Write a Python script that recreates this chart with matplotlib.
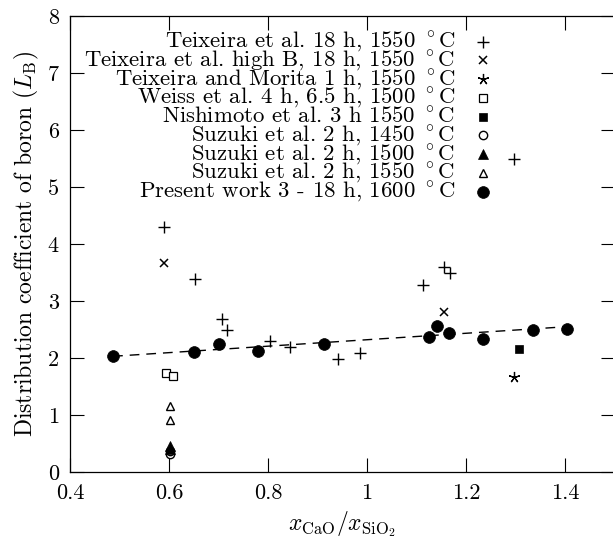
import numpy as np
import matplotlib
matplotlib.use("Agg")
import matplotlib.pyplot as plt

plt.rcParams["font.family"] = "serif"
plt.rcParams["font.serif"] = ["cmr10"]
plt.rcParams["mathtext.fontset"] = "cm"
plt.rcParams["axes.formatter.use_mathtext"] = True

# ===============================
# DATA  (x = x_CaO / x_SiO2, y = L_B)
# ===============================
teix18_x = [0.589, 0.653, 0.707, 0.718, 0.804, 0.845, 0.942, 0.985, 1.114, 1.156, 1.168, 1.296]
teix18_y = [4.30, 3.38, 2.69, 2.49, 2.29, 2.19, 1.98, 2.08, 3.28, 3.60, 3.49, 5.49]

teixB_x = [0.589, 1.156]
teixB_y = [3.67, 2.80]

morita_x = [1.296]
morita_y = [1.66]

weiss_x = [0.594, 0.609]
weiss_y = [1.73, 1.68]

nishi_x = [1.308]
nishi_y = [2.15]

suz1450_x = [0.602, 0.602]
suz1450_y = [0.32, 0.36]

suz1500_x = [0.602, 0.602]
suz1500_y = [0.40, 0.46]

suz1550_x = [0.602, 0.602]
suz1550_y = [1.15, 0.92]

present_x = [0.487, 0.651, 0.701, 0.780, 0.913, 1.126, 1.141, 1.166, 1.234, 1.336, 1.405]
present_y = [2.04, 2.11, 2.245, 2.12, 2.245, 2.36, 2.56, 2.44, 2.33, 2.50, 2.51]

# linear trend through the present work
fit_x = [0.487, 1.405]
fit_y = [2.03, 2.55]

labels = [
    r"Teixeira et al. 18 h, 1550 $^\circ$C",
    r"Teixeira et al. high B, 18 h, 1550 $^\circ$C",
    r"Teixeira and Morita 1 h, 1550 $^\circ$C",
    r"Weiss et al. 4 h, 6.5 h, 1500 $^\circ$C",
    r"Nishimoto et al. 3 h 1550 $^\circ$C",
    r"Suzuki et al. 2 h, 1450 $^\circ$C",
    r"Suzuki et al. 2 h, 1500 $^\circ$C",
    r"Suzuki et al. 2 h, 1550 $^\circ$C",
    r"Present work 3 - 18 h, 1600 $^\circ$C",
]

styles = [
    dict(marker="+", ms=8, mew=1.0, color="black", ls="none"),
    dict(marker="x", ms=5.5, mew=1.1, color="black", ls="none"),
    dict(marker=(5, 2, 0), ms=8, mew=0.9, color="black", ls="none"),
    dict(marker="s", ms=5.5, mew=0.9, mfc="white", mec="black", ls="none"),
    dict(marker="s", ms=6, mew=0.5, color="black", ls="none"),
    dict(marker="o", ms=6, mew=1.0, mfc="white", mec="black", ls="none"),
    dict(marker="^", ms=6.5, mew=0.5, color="black", ls="none"),
    dict(marker="^", ms=6, mew=1.0, mfc="white", mec="black", ls="none"),
    dict(marker="o", ms=8.5, mew=0.5, color="black", ls="none"),
]

series = [
    (teix18_x, teix18_y),
    (teixB_x, teixB_y),
    (morita_x, morita_y),
    (weiss_x, weiss_y),
    (nishi_x, nishi_y),
    (suz1450_x, suz1450_y),
    (suz1500_x, suz1500_y),
    (suz1550_x, suz1550_y),
    (present_x, present_y),
]

# ===============================
# FIGURE
# ===============================
W, H = 613, 540
fig = plt.figure(figsize=(W / 100, H / 100), dpi=100)
x0, x1, y0, y1 = 70, 614.5, 472, 16
ax = fig.add_axes([x0 / W, (H - y0) / H, (x1 - x0) / W, (y0 - y1) / H])

ax.plot(fit_x, fit_y, color="black", lw=1.0, ls=(0, (7, 5)), zorder=2)
for (sx, sy), st in zip(series, styles):
    ax.plot(sx, sy, zorder=3, **st)

ax.set_xlim(0.4, 1.5)
ax.set_ylim(0, 8)
xt = [0.4, 0.6, 0.8, 1.0, 1.2, 1.4]
ax.set_xticks(xt)
ax.set_xticklabels(["0.4", "0.6", "0.8", "1", "1.2", "1.4"])
ax.set_yticks(range(9))
ax.set_yticklabels([str(v) for v in range(9)])
ax.tick_params(direction="in", length=10, width=0.8, top=True, right=True,
               labelsize=16, pad=8)
for sp in ax.spines.values():
    sp.set_linewidth(0.9)

ax.set_xlabel(r"$x_{\rm CaO}/x_{\rm SiO_2}$", fontsize=17, labelpad=5)
ax.set_ylabel(r"Distribution coefficient of boron ($L_{\rm B}$)", fontsize=17, labelpad=5)

# key: right-aligned text with the symbol to its right
text_x = (455 - x0) / (x1 - x0)
mark_x = (483 - x0) / (x1 - x0)
for i, (lab, st) in enumerate(zip(labels, styles)):
    ry = 41.7 + 18.75 * i
    ya = (y0 - ry) / (y0 - y1)
    ax.text(text_x, ya, lab, transform=ax.transAxes, ha="right", va="center",
            fontsize=16.4)
    ax.plot([mark_x], [ya], transform=ax.transAxes, clip_on=False, **st)

fig.savefig("out.png", dpi=100)
